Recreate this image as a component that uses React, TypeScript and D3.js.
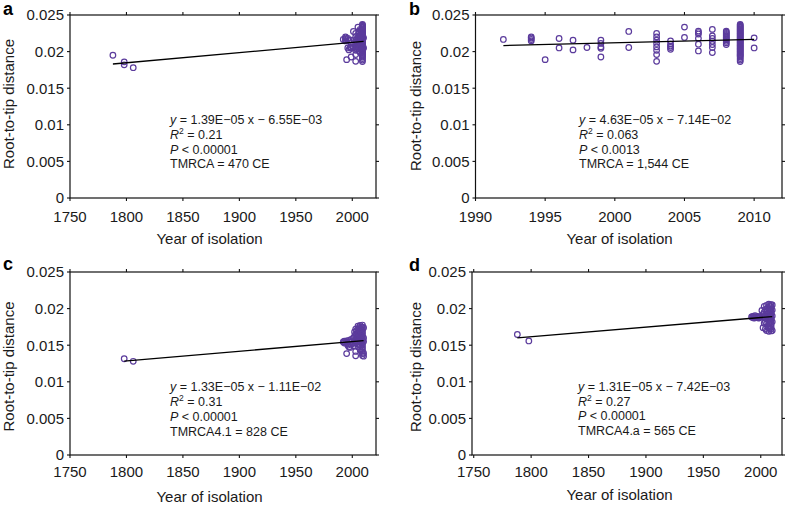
import React from "react";
import * as d3 from "d3";

const yTicks = [0, 0.005, 0.01, 0.015, 0.02, 0.025];
const yTickLabels = ["0", "0.005", "0.01", "0.015", "0.02", "0.025"];
const xTicksCentury = [1750, 1800, 1850, 1900, 1950, 2000];
const xTicksDecade = [1990, 1995, 2000, 2005, 2010];

// modern isolates shared by panels a and b: [year, root-to-tip values]
const modernGroups: [number, number[]][] = [
  [1992, [0.02166]],
  [1994, [0.02201, 0.02185, 0.02165, 0.02146]],
  [1995, [0.0189]],
  [1996, [0.02179, 0.0205]],
  [1997, [0.02156, 0.02023]],
  [1998, [0.02056]],
  [1999, [0.02156, 0.02111, 0.02064, 0.02045, 0.01926]],
  [2001, [0.02275, 0.02056]],
  [2003, [0.02248, 0.02201, 0.02156, 0.02111, 0.02064, 0.02018, 0.01959, 0.01867]],
  [2004, [0.02146, 0.02101, 0.02075, 0.02056, 0.02032]],
  [2005, [0.02335, 0.02193]],
  [2006, [0.0228, 0.0226, 0.0224, 0.02179, 0.02101, 0.02009]],
  [2007, [0.02303, 0.02215, 0.02179, 0.02142, 0.02097, 0.02056, 0.01987]],
  [2008, [0.0228, 0.02266, 0.0225, 0.02236, 0.0222, 0.02204, 0.0219, 0.02174, 0.0216, 0.0214, 0.0212, 0.02097]],
  [2009, [0.02372, 0.0236, 0.02347, 0.02335, 0.02322, 0.0231, 0.02299, 0.02286, 0.02275, 0.02262, 0.0225, 0.0224, 0.02228, 0.02215, 0.02204, 0.02192, 0.0218, 0.02168, 0.02155, 0.02145, 0.02132, 0.0212, 0.02108, 0.02095, 0.02085, 0.02072, 0.0206, 0.02047, 0.02036, 0.02024, 0.0201, 0.02, 0.01988, 0.01975, 0.01962, 0.0195, 0.0194, 0.01925, 0.01905, 0.01885, 0.01864]],
  [2010, [0.02188, 0.0205]],
];
const ancientA: [number, number][] = [[1788, 0.0195], [1798, 0.0186], [1798, 0.0182], [1806, 0.0178]];

const groupsC: [number, number[]][] = [
  [1992, [0.01545]],
  [1993, [0.01555, 0.0153]],
  [1995, [0.0156, 0.0154, 0.01385]],
  [1996, [0.0152, 0.015]],
  [1997, [0.01565, 0.01475]],
  [1998, [0.0155, 0.0147]],
  [1999, [0.0158, 0.01545, 0.0151]],
  [2001, [0.016, 0.0154]],
  [2002, [0.0168, 0.0162, 0.0149]],
  [2003, [0.0172, 0.0165, 0.0156, 0.01415, 0.01355]],
  [2004, [0.017, 0.0164, 0.0158, 0.0152]],
  [2005, [0.0176, 0.0169, 0.0161, 0.01545, 0.0148]],
  [2006, [0.0174, 0.017, 0.0166, 0.016, 0.0151]],
  [2007, [0.0177, 0.0172, 0.0168, 0.0163, 0.0157, 0.015, 0.0143]],
  [2008, [0.0175, 0.0171, 0.0167, 0.0162, 0.0158, 0.0154]],
  [2009, [0.01775, 0.01745, 0.01715, 0.01685, 0.01655, 0.01625, 0.01595, 0.01565, 0.01535, 0.01505, 0.01475, 0.01445, 0.01415, 0.01385, 0.0136]],
  [2010, [0.0174, 0.016, 0.0155, 0.0139, 0.0135]],
];
const ancientC: [number, number][] = [[1798, 0.01315], [1806, 0.0128]];

const groupsD: [number, number[]][] = [
  [1992, [0.01885]],
  [1993, [0.0188, 0.01895]],
  [1994, [0.0187, 0.0189]],
  [1995, [0.01905, 0.01875]],
  [1996, [0.01885]],
  [1997, [0.0188, 0.01895]],
  [1998, [0.0187]],
  [1999, [0.0189, 0.01875]],
  [2000, [0.01885]],
  [2001, [0.01975, 0.0189]],
  [2002, [0.0192, 0.0174]],
  [2003, [0.0203, 0.0195, 0.0188, 0.018]],
  [2004, [0.0199, 0.019, 0.0182, 0.0172]],
  [2005, [0.02045, 0.0196, 0.0189, 0.0179, 0.017]],
  [2006, [0.0201, 0.0193, 0.0185, 0.0176]],
  [2007, [0.0206, 0.02, 0.0194, 0.0188, 0.0181, 0.0174, 0.0169]],
  [2008, [0.0204, 0.0198, 0.0192, 0.0186, 0.018, 0.0173]],
  [2009, [0.02055, 0.02025, 0.01995, 0.01965, 0.01935, 0.01905, 0.01875, 0.01845, 0.01815, 0.01785, 0.01755, 0.01725, 0.01695]],
  [2010, [0.0205, 0.0198, 0.019, 0.0182, 0.017]],
];
const ancientD: [number, number][] = [[1788, 0.01646], [1798, 0.01558]];

const slopes = [1.39e-5, 4.63e-5, 1.33e-5, 1.31e-5];
const intercepts = [-6.55e-3, -7.14e-2, -1.11e-2, -7.42e-3];
const fitStart = [1788, 1992, 1798, 1788];
const fitEnd = [2010, 2010, 2010, 2010];
const eqTexts = ["1.39E\u221205 x \u2212 6.55E\u221203", "4.63E\u221205 x \u2212 7.14E\u221202", "1.33E\u221205 x \u2212 1.11E\u221202", "1.31E\u221205 x \u2212 7.42E\u221203"];
const r2Texts = ["0.21", "0.063", "0.31", "0.27"];
const pTexts = ["0.00001", "0.0013", "0.00001", "0.00001"];
const tmrcaTexts = ["TMRCA = 470 CE", "TMRCA = 1,544 CE", "TMRCA4.1 = 828 CE", "TMRCA4.a = 565 CE"];
const panelLetters = ["a", "b", "c", "d"];
const xAxisTitle = "Year of isolation";
const yAxisTitle = "Root-to-tip distance";

const flatten = (groups: [number, number[]][]) =>
  groups.flatMap(([yr, vals]) => vals.map((v) => [yr, v] as [number, number]));

const panelPoints: [number, number][][] = [
  [...ancientA, ...flatten(modernGroups)],
  flatten(modernGroups),
  [...ancientC, ...flatten(groupsC)],
  [...ancientD, ...flatten(groupsD)],
];

const layouts = [
  { left: 70, right: 376, top: 15, bottom: 198, xd: [1750, 2021], ticks: xTicksCentury, lx: 3, ly: 15, ytx: 14, yty: 104, xtx: 209.5, xty: 243.5, tly: 222, ax: 170, ay: 124, adY: 14.8 },
  { left: 475.5, right: 782, top: 15, bottom: 198, xd: [1990, 2012], ticks: xTicksDecade, lx: 409, ly: 15, ytx: 421, yty: 106, xtx: 619.5, xty: 244, tly: 222, ax: 579, ay: 124, adY: 14.8 },
  { left: 70, right: 376, top: 272, bottom: 455, xd: [1750, 2021], ticks: xTicksCentury, lx: 3, ly: 270, ytx: 14, yty: 366.5, xtx: 209.5, xty: 502, tly: 476.5, ax: 170, ay: 391.3, adY: 15 },
  { left: 472, right: 782, top: 272, bottom: 455, xd: [1748.5, 2018.5], ticks: xTicksCentury, lx: 409, ly: 271, ytx: 420.5, yty: 367, xtx: 619.5, xty: 500, tly: 476.5, ax: 578, ay: 391, adY: 14.6 },
];

const PURPLE = "#5b3b9c";
const FONT = "'Liberation Sans', Arial, Helvetica, sans-serif";
const TXT = "#1a1a1a";

function Panel({ i }: { i: number }) {
  const L = layouts[i];
  const x = d3.scaleLinear().domain(L.xd).range([L.left, L.right]);
  const y = d3.scaleLinear().domain([0, 0.025]).range([L.bottom, L.top]);
  const line = d3.line<number>().x((d) => x(d)).y((d) => y(slopes[i] * d + intercepts[i]));
  const tk = 3;
  return (
    <g>
      <text x={L.lx} y={L.ly} fontSize={18} fontWeight="bold" fontFamily={FONT} fill="#000">
        {panelLetters[i]}
      </text>
      <rect x={L.left} y={L.top} width={L.right - L.left} height={L.bottom - L.top} fill="none" stroke="#111" strokeWidth={1.2} />
      {L.ticks.map((t) => (
        <g key={"x" + t}>
          <line x1={x(t)} x2={x(t)} y1={L.bottom} y2={L.bottom + tk} stroke="#111" strokeWidth={1.1} />
          <line x1={x(t)} x2={x(t)} y1={L.top} y2={L.top - tk} stroke="#111" strokeWidth={1.1} />
          <text x={x(t)} y={L.tly} textAnchor="middle" fontSize={15} fontFamily={FONT} fill={TXT}>
            {t}
          </text>
        </g>
      ))}
      {yTicks.map((t, k) => (
        <g key={"y" + t}>
          <line x1={L.left} x2={L.left - tk} y1={y(t)} y2={y(t)} stroke="#111" strokeWidth={1.1} />
          <line x1={L.right} x2={L.right + tk} y1={y(t)} y2={y(t)} stroke="#111" strokeWidth={1.1} />
          <text x={L.left - 6} y={y(t)} dy="0.36em" textAnchor="end" fontSize={15} fontFamily={FONT} fill={TXT}>
            {yTickLabels[k]}
          </text>
        </g>
      ))}
      <text x={L.xtx} y={L.xty} textAnchor="middle" fontSize={15} fontFamily={FONT} fill={TXT}>
        {xAxisTitle}
      </text>
      <text transform={`translate(${L.ytx},${L.yty}) rotate(-90)`} textAnchor="middle" fontSize={15} fontFamily={FONT} fill={TXT}>
        {yAxisTitle}
      </text>
      {panelPoints[i].map(([yr, v], k) => (
        <circle key={k} cx={x(yr)} cy={y(v)} r={2.8} fill="none" stroke={PURPLE} strokeWidth={1.2} />
      ))}
      <path d={line([fitStart[i], fitEnd[i]]) || ""} stroke="#000" strokeWidth={1.3} fill="none" />
      <g fontSize={12.5} fontFamily={FONT} fill={TXT}>
        <text x={L.ax} y={L.ay}>
          <tspan fontStyle="italic">y</tspan>
          {" = " + eqTexts[i]}
        </text>
        <text x={L.ax} y={L.ay + L.adY}>
          <tspan fontStyle="italic">R</tspan>
          <tspan fontSize={8.5} dy={-5}>2</tspan>
          <tspan dy={5}>{" = " + r2Texts[i]}</tspan>
        </text>
        <text x={L.ax} y={L.ay + 2 * L.adY}>
          <tspan fontStyle="italic">P</tspan>
          {" < " + pTexts[i]}
        </text>
        <text x={L.ax} y={L.ay + 3 * L.adY}>
          {tmrcaTexts[i]}
        </text>
      </g>
    </g>
  );
}

export default function App() {
  return (
    <svg
      width={788}
      height={506}
      viewBox="0 0 788 506"
      style={{ position: "absolute", left: 0, top: 0, background: "#fff" }}
    >
      <rect x={0} y={0} width={788} height={506} fill="#fff" />
      {[0, 1, 2, 3].map((i) => (
        <Panel key={i} i={i} />
      ))}
    </svg>
  );
}
